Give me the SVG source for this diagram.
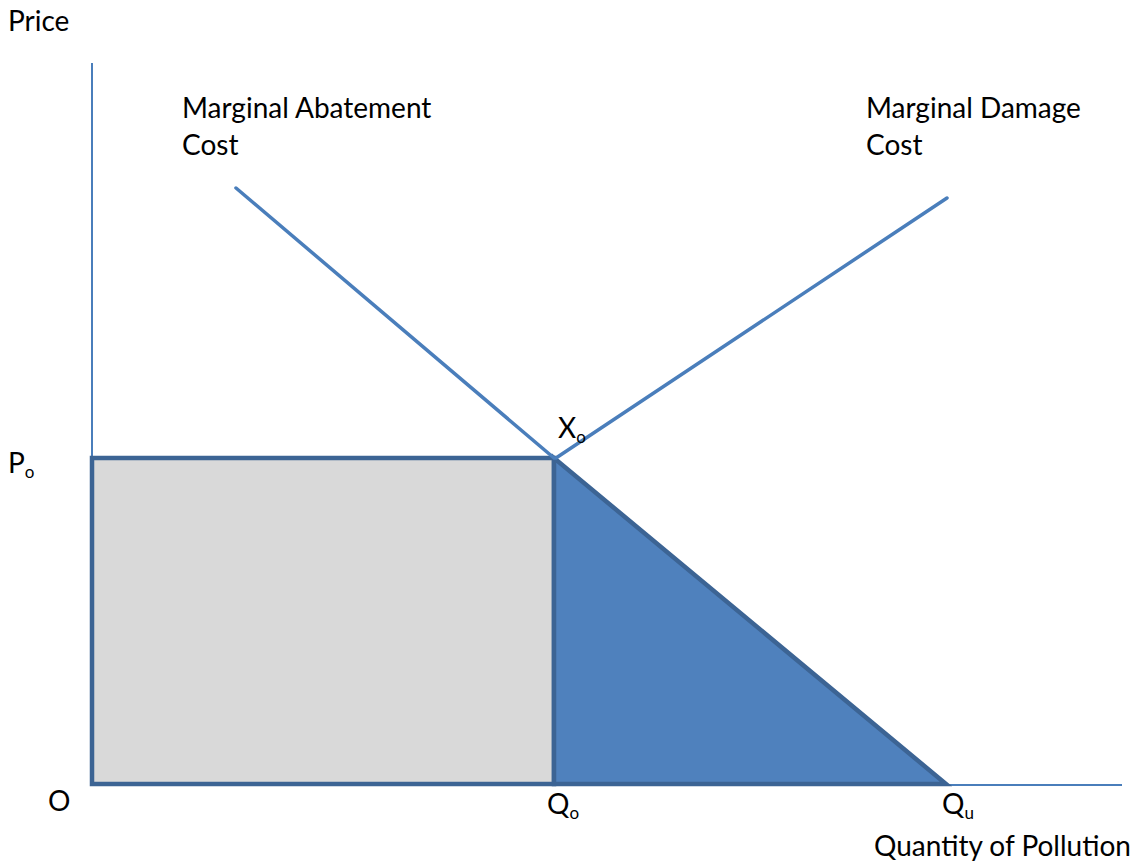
<svg xmlns="http://www.w3.org/2000/svg" width="1140" height="863" viewBox="0 0 1140 863">
<style>
text{font-family:Lato,"Open Sans","Liberation Sans",sans-serif;font-size:28px;fill:#000}
.sub{font-size:17px}
.axis{stroke:#4a7ebb;stroke-width:2;fill:none}
.curve{stroke:#4a7ebb;stroke-width:3.5;fill:none;stroke-linecap:round}
.area{stroke:#3c6494;stroke-width:4.5;stroke-linejoin:miter}
</style>
<rect width="1140" height="863" fill="#fff"/>
<g id="axes">
<line class="axis" x1="92" y1="63" x2="92" y2="785"/>
<line class="axis" x1="92" y1="785" x2="1122" y2="785"/>
</g>
<g id="abatement-area"><rect class="area" x="92" y="458" width="462" height="326" fill="#d9d9d9"/></g>
<g id="damage-area"><polygon class="area" points="554,458 554,784 946,784" fill="#4f81bd"/></g>
<g id="connectors">
<line class="curve" x1="236" y1="188" x2="554" y2="458"/>
<line class="curve" x1="556" y1="458" x2="947" y2="198"/>
</g>
<g id="labels">
<text x="8" y="31">Price</text>
<text x="182" y="118">Marginal Abatement</text>
<text x="182" y="155">Cost</text>
<text x="866" y="118">Marginal Damage</text>
<text x="866" y="155">Cost</text>
<text x="558" y="438">X<tspan class="sub" dy="5">o</tspan></text>
<text x="8" y="473">P<tspan class="sub" dy="5">o</tspan></text>
<text x="48" y="811">O</text>
<text x="547" y="814">Q<tspan class="sub" dy="5">o</tspan></text>
<text x="942" y="814">Q<tspan class="sub" dy="5">u</tspan></text>
<text x="874" y="856">Quantity of Pollution</text>
</g>
</svg>
